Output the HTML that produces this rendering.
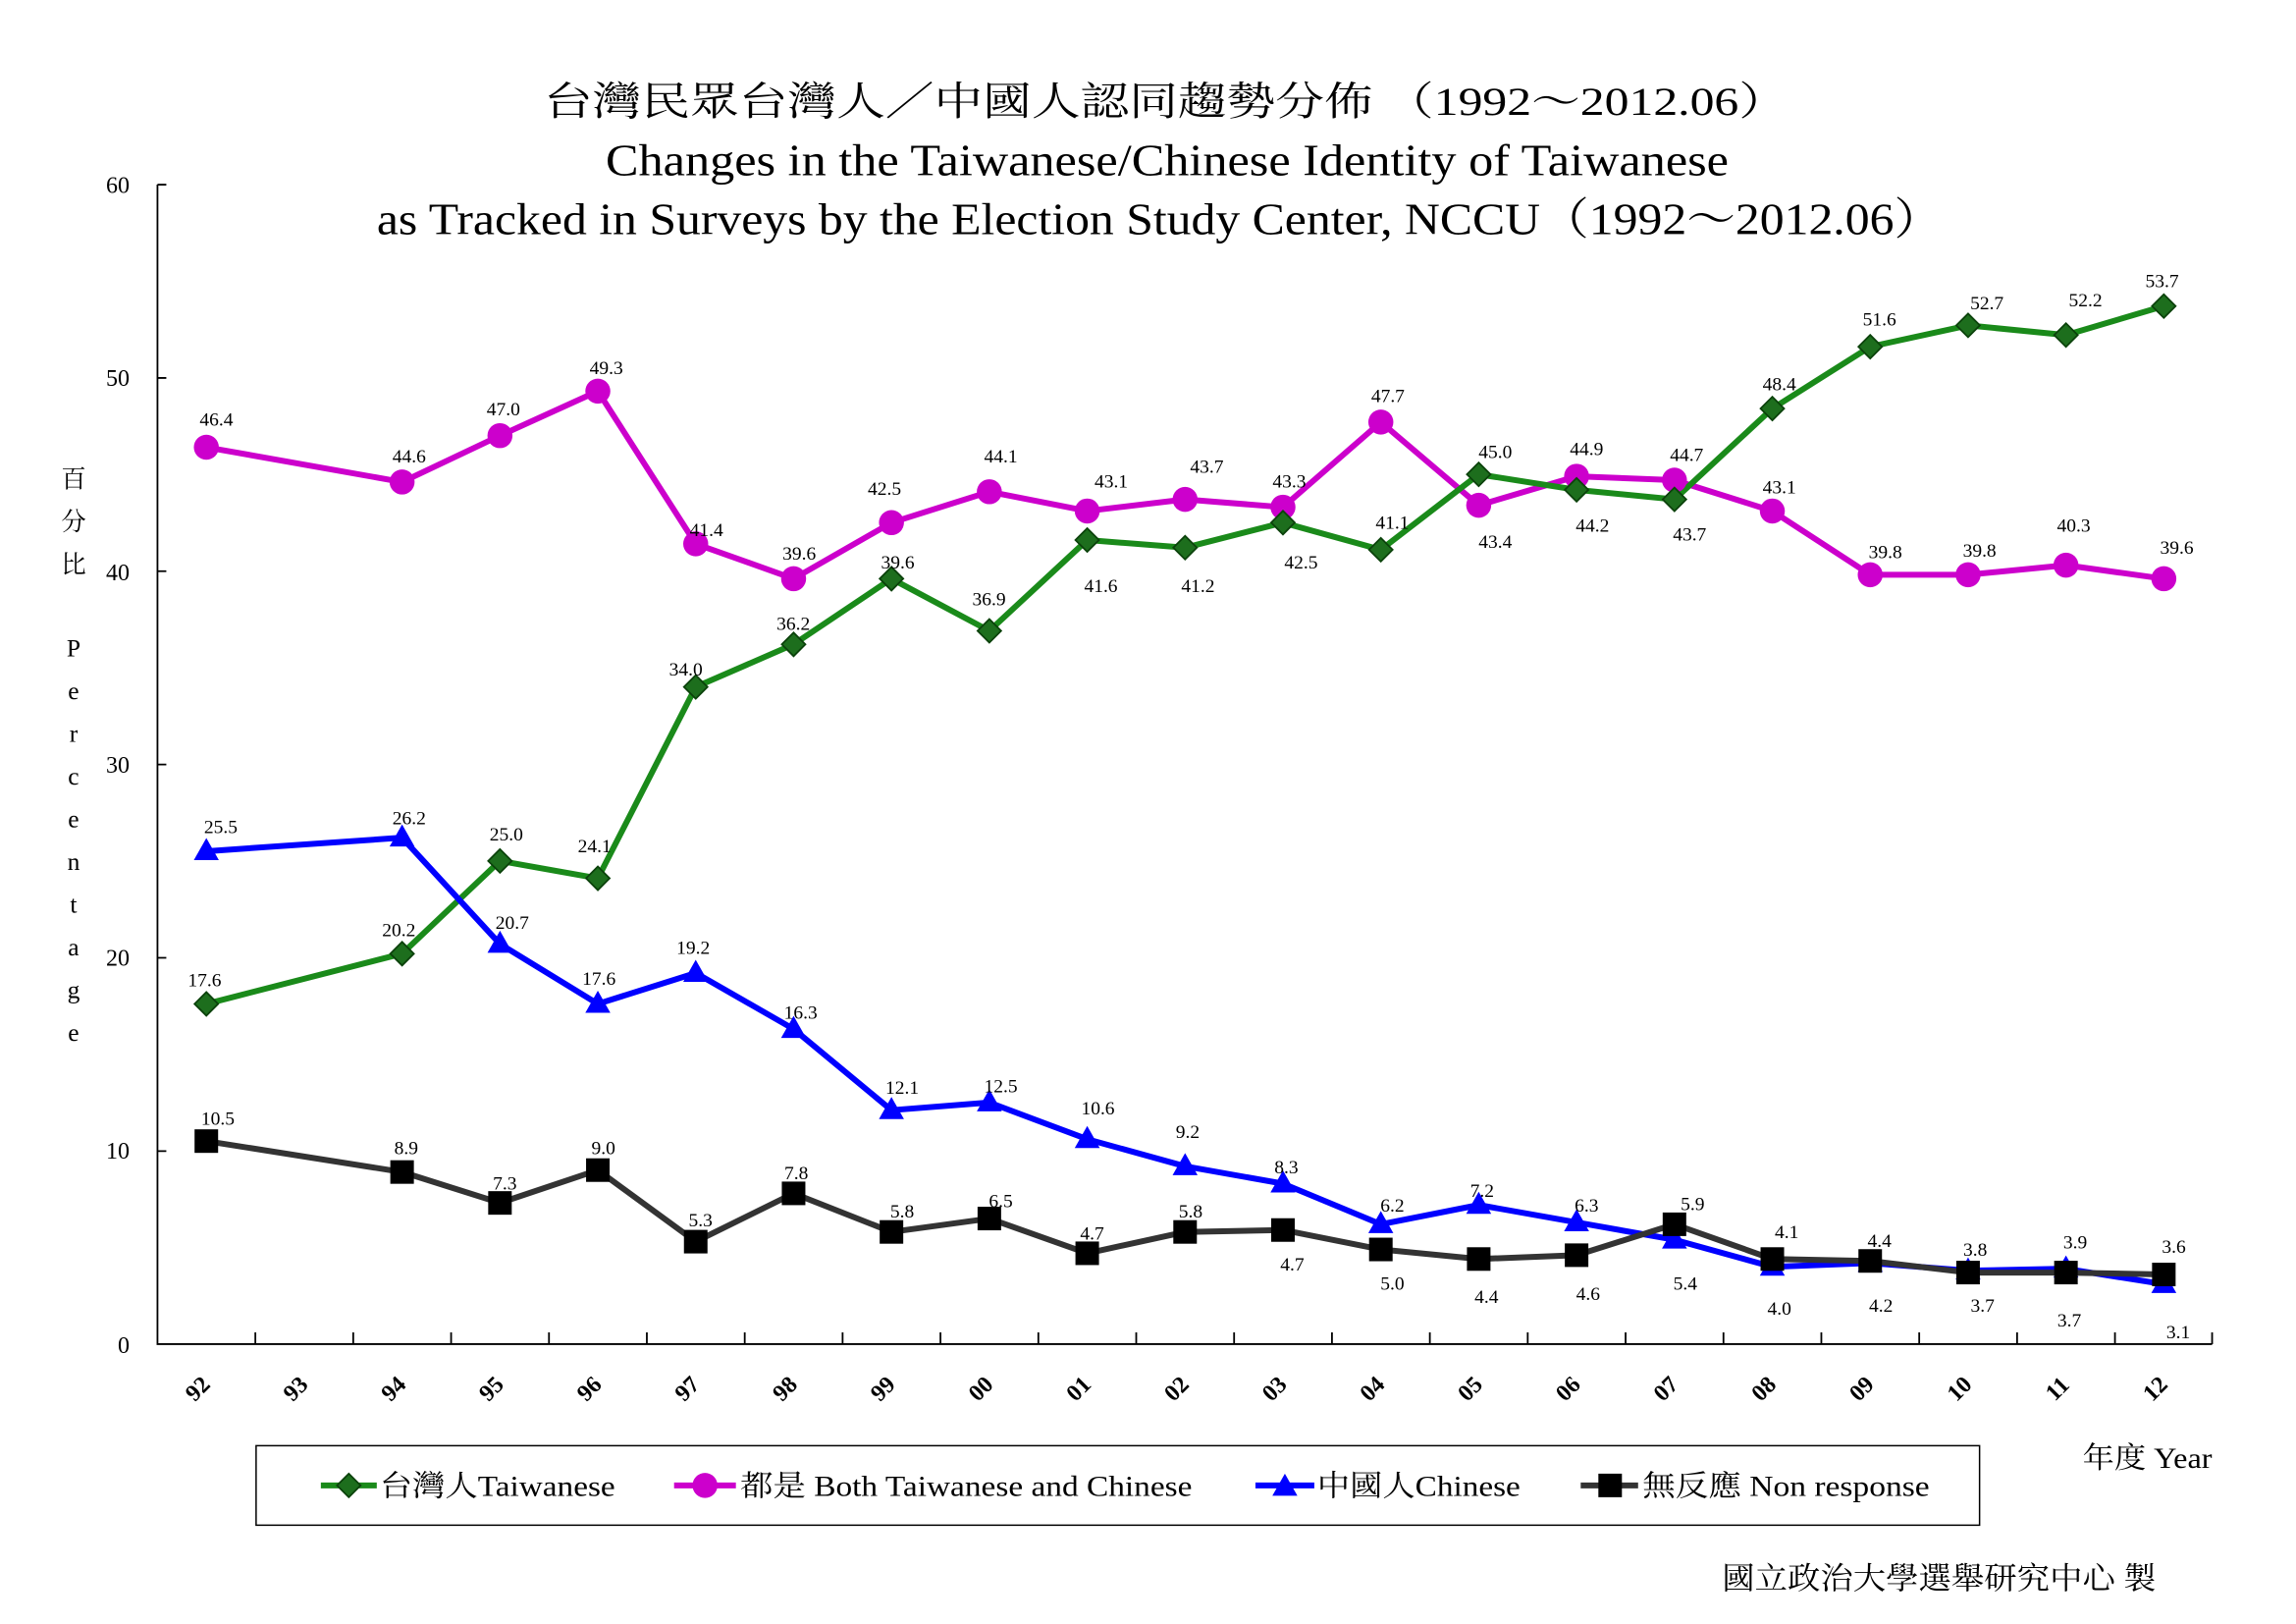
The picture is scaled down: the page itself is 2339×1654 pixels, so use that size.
<!DOCTYPE html>
<html><head><meta charset="utf-8"><style>html,body{margin:0;padding:0;background:#fff}svg{display:block}</style></head>
<body>
<svg width="2339" height="1654" viewBox="0 0 1560 1103.1" xmlns="http://www.w3.org/2000/svg" font-family="'Liberation Serif','Noto Serif CJK SC','Noto Sans CJK TC',serif">
<defs>
<path id="dia" d="M0,-8 L8,0 L0,8 L-8,0Z" fill="#1d6e1d" stroke="#0b420b" stroke-width="1.2"/>
<circle id="cir" r="8.5" fill="#cc00cc"/>
<path id="tri" d="M0,-9 L8.5,6 L-8.5,6Z" fill="#0000ff"/>
<rect id="sq" x="-8" y="-8" width="16" height="16" fill="#000"/>
</defs>
<rect width="1560" height="1103.1" fill="#fff"/>
<text x="792" y="78" font-size="27" text-anchor="middle" textLength="845" lengthAdjust="spacingAndGlyphs">台灣民眾台灣人／中國人認同趨勢分佈 （1992～2012.06）</text>
<text x="793" y="119" font-size="30" text-anchor="middle" textLength="763" lengthAdjust="spacingAndGlyphs">Changes in the Taiwanese/Chinese Identity of Taiwanese</text>
<text x="788" y="159" font-size="30" text-anchor="middle" textLength="1064" lengthAdjust="spacingAndGlyphs">as Tracked in Surveys by the Election Study Center, NCCU（1992～2012.06）</text>
<g stroke="#000" stroke-width="1.2" fill="none">
<path d="M107,125.4 V913 H1503"/>
<path d="M107,125.4 h6 M107,256.7 h6 M107,388 h6 M107,519.3 h6 M107,650.6 h6 M107,781.9 h6"/>
<path d="M173.5,913 v-8 M240,913 v-8 M306.5,913 v-8 M373,913 v-8 M439.5,913 v-8 M506,913 v-8 M572.5,913 v-8 M639,913 v-8 M705.5,913 v-8 M772,913 v-8 M838.5,913 v-8 M905,913 v-8 M971.5,913 v-8 M1038,913 v-8 M1104.5,913 v-8 M1171,913 v-8 M1237.5,913 v-8 M1304,913 v-8 M1370.5,913 v-8 M1437,913 v-8 M1503,913 v-8"/>
</g>
<g font-size="16" text-anchor="end">
<text x="88" y="131">60</text><text x="88" y="262">50</text><text x="88" y="394">40</text><text x="88" y="525">30</text><text x="88" y="656">20</text><text x="88" y="787">10</text><text x="88" y="919">0</text>
</g>
<g font-size="16" font-weight="bold" text-anchor="middle">
<text transform="translate(138,947) rotate(-45)">92</text>
<text transform="translate(204.5,947) rotate(-45)">93</text>
<text transform="translate(271,947) rotate(-45)">94</text>
<text transform="translate(337.5,947) rotate(-45)">95</text>
<text transform="translate(404,947) rotate(-45)">96</text>
<text transform="translate(470.5,947) rotate(-45)">97</text>
<text transform="translate(537,947) rotate(-45)">98</text>
<text transform="translate(603.5,947) rotate(-45)">99</text>
<text transform="translate(670,947) rotate(-45)">00</text>
<text transform="translate(736.5,947) rotate(-45)">01</text>
<text transform="translate(803,947) rotate(-45)">02</text>
<text transform="translate(869.5,947) rotate(-45)">03</text>
<text transform="translate(936,947) rotate(-45)">04</text>
<text transform="translate(1002.5,947) rotate(-45)">05</text>
<text transform="translate(1069,947) rotate(-45)">06</text>
<text transform="translate(1135.5,947) rotate(-45)">07</text>
<text transform="translate(1202,947) rotate(-45)">08</text>
<text transform="translate(1268.5,947) rotate(-45)">09</text>
<text transform="translate(1335,947) rotate(-45)">10</text>
<text transform="translate(1401.5,947) rotate(-45)">11</text>
<text transform="translate(1468,947) rotate(-45)">12</text>
</g>
<g font-size="17" text-anchor="middle">
<text x="50" y="331">百</text><text x="50" y="360">分</text><text x="50" y="389">比</text>
<text x="50" y="446">P</text><text x="50" y="475">e</text><text x="50" y="504">r</text><text x="50" y="533">c</text><text x="50" y="562">e</text><text x="50" y="591">n</text><text x="50" y="620">t</text><text x="50" y="649">a</text><text x="50" y="678">g</text><text x="50" y="707">e</text>
</g>
<g fill="none" stroke-width="4" stroke-linejoin="round">
<polyline stroke="#cc00cc" points="140.2,303.8 273.2,327.4 339.7,295.9 406.2,265.7 472.7,369.4 539.2,393.1 605.7,355 672.2,334 738.7,347.1 805.2,339.2 871.7,344.5 938.2,286.7 1004.7,343.2 1071.2,323.5 1137.7,326.1 1204.2,347.1 1270.7,390.4 1337.2,390.4 1403.7,383.9 1470.2,393.1"/>
<polyline stroke="#1a8a1a" points="140.2,681.9 273.2,647.8 339.7,584.8 406.2,596.6 472.7,466.6 539.2,437.7 605.7,393.1 672.2,428.5 738.7,366.8 805.2,372 871.7,355 938.2,373.4 1004.7,322.2 1071.2,332.7 1137.7,339.2 1204.2,277.5 1270.7,235.5 1337.2,221 1403.7,227.6 1470.2,207.9"/>
<polyline stroke="#0000ff" points="140.2,578.2 273.2,569 339.7,641.2 406.2,681.9 472.7,660.9 539.2,699 605.7,754.1 672.2,748.9 738.7,773.8 805.2,792.2 871.7,804 938.2,831.6 1004.7,818.5 1071.2,830.3 1137.7,842.1 1204.2,860.5 1270.7,857.9 1337.2,863.1 1403.7,861.8 1470.2,872.3"/>
<polyline stroke="#333" points="140.2,775.1 273.2,796.1 339.7,817.1 406.2,794.8 472.7,843.4 539.2,810.6 605.7,836.8 672.2,827.7 738.7,851.3 805.2,836.8 871.7,835.5 938.2,848.7 1004.7,855.2 1071.2,852.6 1137.7,831.6 1204.2,855.2 1270.7,856.5 1337.2,864.4 1403.7,864.4 1470.2,865.7"/>
</g>
<g>
<use href="#cir" x="140.2" y="303.8"/><use href="#cir" x="273.2" y="327.4"/><use href="#cir" x="339.7" y="295.9"/><use href="#cir" x="406.2" y="265.7"/><use href="#cir" x="472.7" y="369.4"/><use href="#cir" x="539.2" y="393.1"/><use href="#cir" x="605.7" y="355"/><use href="#cir" x="672.2" y="334"/><use href="#cir" x="738.7" y="347.1"/><use href="#cir" x="805.2" y="339.2"/><use href="#cir" x="871.7" y="344.5"/><use href="#cir" x="938.2" y="286.7"/><use href="#cir" x="1004.7" y="343.2"/><use href="#cir" x="1071.2" y="323.5"/><use href="#cir" x="1137.7" y="326.1"/><use href="#cir" x="1204.2" y="347.1"/><use href="#cir" x="1270.7" y="390.4"/><use href="#cir" x="1337.2" y="390.4"/><use href="#cir" x="1403.7" y="383.9"/><use href="#cir" x="1470.2" y="393.1"/>
<use href="#dia" x="140.2" y="681.9"/><use href="#dia" x="273.2" y="647.8"/><use href="#dia" x="339.7" y="584.8"/><use href="#dia" x="406.2" y="596.6"/><use href="#dia" x="472.7" y="466.6"/><use href="#dia" x="539.2" y="437.7"/><use href="#dia" x="605.7" y="393.1"/><use href="#dia" x="672.2" y="428.5"/><use href="#dia" x="738.7" y="366.8"/><use href="#dia" x="805.2" y="372"/><use href="#dia" x="871.7" y="355"/><use href="#dia" x="938.2" y="373.4"/><use href="#dia" x="1004.7" y="322.2"/><use href="#dia" x="1071.2" y="332.7"/><use href="#dia" x="1137.7" y="339.2"/><use href="#dia" x="1204.2" y="277.5"/><use href="#dia" x="1270.7" y="235.5"/><use href="#dia" x="1337.2" y="221"/><use href="#dia" x="1403.7" y="227.6"/><use href="#dia" x="1470.2" y="207.9"/>
<use href="#tri" x="140.2" y="578.2"/><use href="#tri" x="273.2" y="569"/><use href="#tri" x="339.7" y="641.2"/><use href="#tri" x="406.2" y="681.9"/><use href="#tri" x="472.7" y="660.9"/><use href="#tri" x="539.2" y="699"/><use href="#tri" x="605.7" y="754.1"/><use href="#tri" x="672.2" y="748.9"/><use href="#tri" x="738.7" y="773.8"/><use href="#tri" x="805.2" y="792.2"/><use href="#tri" x="871.7" y="804"/><use href="#tri" x="938.2" y="831.6"/><use href="#tri" x="1004.7" y="818.5"/><use href="#tri" x="1071.2" y="830.3"/><use href="#tri" x="1137.7" y="842.1"/><use href="#tri" x="1204.2" y="860.5"/><use href="#tri" x="1270.7" y="857.9"/><use href="#tri" x="1337.2" y="863.1"/><use href="#tri" x="1403.7" y="861.8"/><use href="#tri" x="1470.2" y="872.3"/>
<use href="#sq" x="140.2" y="775.1"/><use href="#sq" x="273.2" y="796.1"/><use href="#sq" x="339.7" y="817.1"/><use href="#sq" x="406.2" y="794.8"/><use href="#sq" x="472.7" y="843.4"/><use href="#sq" x="539.2" y="810.6"/><use href="#sq" x="605.7" y="836.8"/><use href="#sq" x="672.2" y="827.7"/><use href="#sq" x="738.7" y="851.3"/><use href="#sq" x="805.2" y="836.8"/><use href="#sq" x="871.7" y="835.5"/><use href="#sq" x="938.2" y="848.7"/><use href="#sq" x="1004.7" y="855.2"/><use href="#sq" x="1071.2" y="852.6"/><use href="#sq" x="1137.7" y="831.6"/><use href="#sq" x="1204.2" y="855.2"/><use href="#sq" x="1270.7" y="856.5"/><use href="#sq" x="1337.2" y="864.4"/><use href="#sq" x="1403.7" y="864.4"/><use href="#sq" x="1470.2" y="865.7"/>
</g>
<g font-size="13" text-anchor="middle">
<text x="139" y="670">17.6</text><text x="271" y="636">20.2</text><text x="344" y="571">25.0</text><text x="404" y="579">24.1</text><text x="466" y="459">34.0</text><text x="539" y="428">36.2</text><text x="610" y="386">39.6</text><text x="672" y="411">36.9</text><text x="748" y="402">41.6</text><text x="814" y="402">41.2</text><text x="884" y="386">42.5</text><text x="946" y="359">41.1</text><text x="1016" y="311">45.0</text><text x="1082" y="361">44.2</text><text x="1148" y="367">43.7</text><text x="1209" y="265">48.4</text><text x="1277" y="221">51.6</text><text x="1350" y="210">52.7</text><text x="1417" y="208">52.2</text><text x="1469" y="195">53.7</text>
<text x="147" y="289">46.4</text><text x="278" y="314">44.6</text><text x="342" y="282">47.0</text><text x="412" y="254">49.3</text><text x="480" y="364">41.4</text><text x="543" y="380">39.6</text><text x="601" y="336">42.5</text><text x="680" y="314">44.1</text><text x="755" y="331">43.1</text><text x="820" y="321">43.7</text><text x="876" y="331">43.3</text><text x="943" y="273">47.7</text><text x="1016" y="372">43.4</text><text x="1078" y="309">44.9</text><text x="1146" y="313">44.7</text><text x="1209" y="335">43.1</text><text x="1281" y="379">39.8</text><text x="1345" y="378">39.8</text><text x="1409" y="361">40.3</text><text x="1479" y="376">39.6</text>
<text x="150" y="566">25.5</text><text x="278" y="560">26.2</text><text x="348" y="631">20.7</text><text x="407" y="669">17.6</text><text x="471" y="648">19.2</text><text x="544" y="692">16.3</text><text x="613" y="743">12.1</text><text x="680" y="742">12.5</text><text x="746" y="757">10.6</text><text x="807" y="773">9.2</text><text x="874" y="797">8.3</text><text x="946" y="823">6.2</text><text x="1007" y="813">7.2</text><text x="1078" y="823">6.3</text><text x="1145" y="876">5.4</text><text x="1209" y="893">4.0</text><text x="1278" y="891">4.2</text><text x="1342" y="853">3.8</text><text x="1410" y="848">3.9</text><text x="1480" y="909">3.1</text>
<text x="148" y="764">10.5</text><text x="276" y="784">8.9</text><text x="343" y="808">7.3</text><text x="410" y="784">9.0</text><text x="476" y="833">5.3</text><text x="541" y="801">7.8</text><text x="613" y="827">5.8</text><text x="680" y="820">6.5</text><text x="742" y="842">4.7</text><text x="809" y="827">5.8</text><text x="878" y="863">4.7</text><text x="946" y="876">5.0</text><text x="1010" y="885">4.4</text><text x="1079" y="883">4.6</text><text x="1150" y="822">5.9</text><text x="1214" y="841">4.1</text><text x="1277" y="847">4.4</text><text x="1347" y="891">3.7</text><text x="1406" y="901">3.7</text><text x="1477" y="851">3.6</text>
</g>
<rect x="174" y="982" width="1171" height="54" fill="none" stroke="#000" stroke-width="1"/>
<g stroke-width="4">
<line x1="218" y1="1009" x2="256" y2="1009" stroke="#1a8a1a"/>
<line x1="458" y1="1009" x2="500" y2="1009" stroke="#cc00cc"/>
<line x1="853" y1="1009" x2="893" y2="1009" stroke="#0000ff"/>
<line x1="1074" y1="1009" x2="1113" y2="1009" stroke="#333"/>
</g>
<use href="#dia" x="237" y="1009"/><use href="#cir" x="479" y="1009"/><use href="#tri" x="873" y="1010"/><use href="#sq" x="1094" y="1009"/>
<g font-size="20">
<text x="258" y="1016" textLength="160" lengthAdjust="spacingAndGlyphs">台灣人Taiwanese</text>
<text x="503" y="1016" textLength="307" lengthAdjust="spacingAndGlyphs">都是 Both Taiwanese and Chinese</text>
<text x="895" y="1016" textLength="138" lengthAdjust="spacingAndGlyphs">中國人Chinese</text>
<text x="1116" y="1016" textLength="195" lengthAdjust="spacingAndGlyphs">無反應 Non response</text>
</g>
<text x="1415" y="997" font-size="20" textLength="88" lengthAdjust="spacingAndGlyphs">年度 Year</text>
<text x="1170" y="1079" font-size="21" textLength="295" lengthAdjust="spacingAndGlyphs">國立政治大學選舉研究中心 製</text>
</svg>
</body></html>
